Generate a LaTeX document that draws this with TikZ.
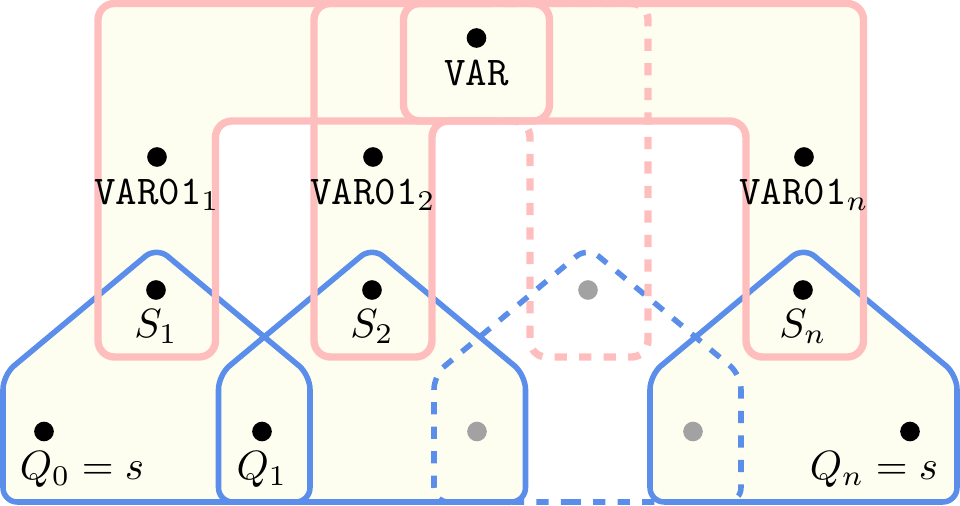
\documentclass[tikz,border=0pt]{standalone}
\usepackage{amsmath, amssymb}
\usepackage{tikz}

\definecolor{pinkline}{RGB}{255,190,190}
\definecolor{blueline}{RGB}{90,142,234}
\definecolor{cream}{RGB}{254,254,240}
\definecolor{dotgray}{RGB}{162,162,162}

\begin{document}
\begin{tikzpicture}[x=0.86cm,y=0.86cm,
  pinkbox/.style={draw=pinkline,line width=1.8pt,rounded corners=4pt},
  house/.style={draw=blueline,line width=1.35pt,rounded corners=3.5pt},
  dot/.style={circle,fill=black,inner sep=0pt,minimum size=4.8pt},
  ghost/.style={circle,fill=dotgray,inner sep=0pt,minimum size=4.8pt},
  lbl/.style={anchor=base,inner sep=0pt}]
  \useasboundingbox (0,0) rectangle (9.6,5.05);

  % Fills: VAR01 frame, left half of second frame, VAR box, solid houses
  \fill[cream,rounded corners=4pt] (4.8,5.015) -- (0.98,5.015) -- (0.98,1.48) -- (2.155,1.48)
    -- (2.155,3.84) -- (7.46,3.84) -- (7.46,1.48) -- (8.635,1.48) -- (8.635,5.015) -- cycle;
  \fill[cream,rounded corners=4pt] (4.8,3.84) -- (4.32,3.84) -- (4.32,1.48) -- (3.14,1.48)
    -- (3.14,5.015) -- (4.8,5.015) -- cycle;
  \fill[cream,rounded corners=4pt] (4.035,3.84) rectangle (5.495,5.015);
  \foreach \c in {1.565,3.72,8.035}
    \fill[cream,rounded corners=3.5pt] (\c,0.03) -- (\c-1.535,0.03) -- (\c-1.535,1.30)
      -- (\c,2.58) -- (\c+1.535,1.30) -- (\c+1.535,0.03) -- cycle;

  % Houses (Q_{i-1}, S_i, Q_i)
  \foreach \c in {1.565,3.72,8.035}
    \draw[house] (\c,0.03) -- (\c-1.535,0.03) -- (\c-1.535,1.30)
      -- (\c,2.58) -- (\c+1.535,1.30) -- (\c+1.535,0.03) -- cycle;
  \draw[house,dashed] (5.875,0.03) -- (4.34,0.03) -- (4.34,1.30)
    -- (5.875,2.58) -- (7.41,1.30) -- (7.41,0.03) -- cycle;

  % Pink frames
  \draw[pinkbox] (4.8,5.015) -- (0.98,5.015) -- (0.98,1.48) -- (2.155,1.48)
    -- (2.155,3.84) -- (7.46,3.84) -- (7.46,1.48) -- (8.635,1.48) -- (8.635,5.015) -- cycle;
  \draw[pinkbox] (4.8,3.84) -- (4.32,3.84) -- (4.32,1.48) -- (3.14,1.48)
    -- (3.14,5.015) -- (4.8,5.015);
  \draw[pinkbox,dashed] (4.8,5.015) -- (6.48,5.015) -- (6.48,1.48) -- (5.30,1.48)
    -- (5.30,3.84) -- (4.8,3.84);
  \draw[pinkbox] (4.035,3.84) rectangle (5.495,5.015);

  % Vertices
  \node[dot] (var) at (4.765,4.67) {};
  \node[lbl] (varlbl) at (4.765,4.195) {\texttt{VAR}};

  \node[dot] (varoa) at (1.57,3.48) {};
  \node[lbl] (varoalbl) at (1.57,3.005) {$\texttt{VAR01}_1$};
  \node[dot] (varob) at (3.73,3.48) {};
  \node[lbl] (varoblbl) at (3.73,3.005) {$\texttt{VAR01}_2$};
  \node[dot] (varon) at (8.04,3.48) {};
  \node[lbl] (varonlbl) at (8.04,3.005) {$\texttt{VAR01}_n$};

  \node[dot] (sa) at (1.56,2.15) {};
  \node[lbl] (salbl) at (1.56,1.675) {$S_1$};
  \node[dot] (sb) at (3.72,2.15) {};
  \node[lbl] (sblbl) at (3.72,1.675) {$S_2$};
  \node[ghost] (sc) at (5.88,2.15) {};
  \node[dot] (sn) at (8.03,2.15) {};
  \node[lbl] (snlbl) at (8.03,1.675) {$S_n$};

  \node[dot] (qa) at (0.44,0.735) {};
  \node[lbl] (qalbl) at (0.82,0.26) {$Q_0 = s$};
  \node[dot] (qb) at (2.62,0.735) {};
  \node[lbl] (qblbl) at (2.62,0.26) {$Q_1$};
  \node[ghost] (qc) at (4.77,0.735) {};
  \node[ghost] (qd) at (6.93,0.735) {};
  \node[dot] (qn) at (9.10,0.735) {};
  \node[lbl] (qnlbl) at (8.74,0.26) {$Q_n = s$};
\end{tikzpicture}
\end{document}
